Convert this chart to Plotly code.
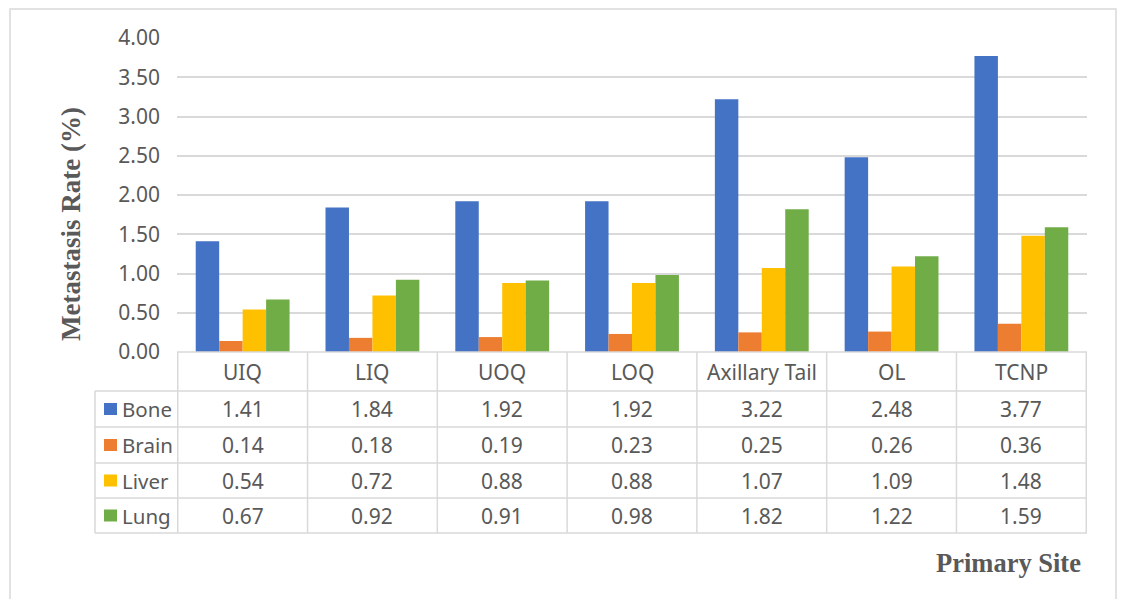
import plotly.graph_objects as go

# ---- data ----
sites = ["UIQ", "LIQ", "UOQ", "LOQ", "Axillary Tail", "OL", "TCNP"]
series_names = ["Bone", "Brain", "Liver", "Lung"]
bone = [1.41, 1.84, 1.92, 1.92, 3.22, 2.48, 3.77]
brain = [0.14, 0.18, 0.19, 0.23, 0.25, 0.26, 0.36]
liver = [0.54, 0.72, 0.88, 0.88, 1.07, 1.09, 1.48]
lung = [0.67, 0.92, 0.91, 0.98, 1.82, 1.22, 1.59]
series_values = [bone, brain, liver, lung]
colors = ["#4472C4", "#ED7D31", "#FFC000", "#70AD47"]

W, H = 1122, 599
TEXT = "#595959"
GRID = "#D9D9D9"
FONT = "Noto Sans"
FS = 21


def px(x):
    return x / W


def py(y):
    return 1 - y / H


# plot area and data-table geometry (pixels)
PL, PR, PT, PB = 177, 1087, 38, 352
TABLE_LEFT = 95
ROW_LINES = [352, 391, 427, 463, 498, 533]

fig = go.Figure()
for name, vals, col in zip(series_names, series_values, colors):
    fig.add_trace(go.Bar(x=sites, y=vals, name=name, marker_color=col,
                         marker_line_width=0, showlegend=False))

shapes = []
annotations = []

# outer frame
shapes.append(dict(type="rect", xref="paper", yref="paper",
                   x0=px(10), x1=px(1116), y0=py(610), y1=py(9),
                   line=dict(color=GRID, width=1.5), layer="below"))

# table horizontal rules
shapes.append(dict(type="line", xref="paper", yref="paper",
                   x0=px(PL), x1=px(PR), y0=py(ROW_LINES[0]), y1=py(ROW_LINES[0]),
                   line=dict(color=GRID, width=1.5)))
for yl in ROW_LINES[1:]:
    shapes.append(dict(type="line", xref="paper", yref="paper",
                       x0=px(TABLE_LEFT), x1=px(PR), y0=py(yl), y1=py(yl),
                       line=dict(color=GRID, width=1.5)))

# table vertical rules: one boundary per category edge
for i in range(len(sites) + 1):
    shapes.append(dict(type="line", xref="x", yref="paper",
                       x0=i - 0.5, x1=i - 0.5,
                       y0=py(ROW_LINES[0]), y1=py(ROW_LINES[-1]),
                       line=dict(color=GRID, width=1.5)))
shapes.append(dict(type="line", xref="paper", yref="paper",
                   x0=px(TABLE_LEFT), x1=px(TABLE_LEFT),
                   y0=py(ROW_LINES[1]), y1=py(ROW_LINES[-1]),
                   line=dict(color=GRID, width=1.5)))

# header row: category names
hdr_y = (ROW_LINES[0] + ROW_LINES[1]) / 2
for i, s in enumerate(sites):
    annotations.append(dict(x=i, y=py(hdr_y), xref="x", yref="paper",
                            text=s, showarrow=False,
                            font=dict(family=FONT, size=FS, color=TEXT),
                            xanchor="center", yanchor="middle"))

# value rows with legend keys
for r, (name, vals, col) in enumerate(zip(series_names, series_values, colors)):
    top, bot = ROW_LINES[r + 1], ROW_LINES[r + 2]
    mid = (top + bot) / 2
    shapes.append(dict(type="rect", xref="paper", yref="paper",
                       x0=px(104), x1=px(117), y0=py(mid + 6), y1=py(mid - 6),
                       fillcolor=col, line=dict(width=0)))
    annotations.append(dict(x=px(120), y=py(mid), xref="paper", yref="paper",
                            text=name, showarrow=False,
                            font=dict(family=FONT, size=20.5, color=TEXT),
                            xanchor="left", yanchor="middle"))
    for i, v in enumerate(vals):
        annotations.append(dict(x=i, y=py(mid), xref="x", yref="paper",
                                text=f"{v:.2f}", showarrow=False,
                                font=dict(family=FONT, size=FS, color=TEXT),
                                xanchor="center", yanchor="middle"))

# axis titles
annotations.append(dict(x=px(71), y=py(224), xref="paper", yref="paper",
                        text="<b>Metastasis Rate (%)</b>", textangle=-90,
                        showarrow=False,
                        font=dict(family="Liberation Serif", size=27, color=TEXT),
                        xanchor="center", yanchor="middle"))
annotations.append(dict(x=px(1083), y=py(563), xref="paper", yref="paper",
                        text="<b>Primary Site</b>", showarrow=False,
                        font=dict(family="Liberation Serif", size=26.5, color=TEXT),
                        xanchor="right", yanchor="middle"))

fig.update_layout(
    width=W, height=H, autosize=False,
    margin=dict(l=0, r=0, t=0, b=0, pad=0, autoexpand=False),
    paper_bgcolor="white", plot_bgcolor="white",
    barmode="group", bargap=0.277, bargroupgap=0,
    shapes=shapes, annotations=annotations,
    xaxis=dict(domain=[px(PL), px(PR)], showticklabels=False, showgrid=False,
               zeroline=False, showline=False, ticks="", automargin=False),
    yaxis=dict(domain=[py(PB), py(PT)], range=[0, 4], dtick=0.5,
               tickformat=".2f", showgrid=True, gridcolor=GRID, gridwidth=1.5,
               zeroline=False, showline=False, ticks="", automargin=False,
               ticklabelstandoff=16,
               tickfont=dict(family=FONT, size=FS, color=TEXT)),
)

fig.write_html("out.html")
